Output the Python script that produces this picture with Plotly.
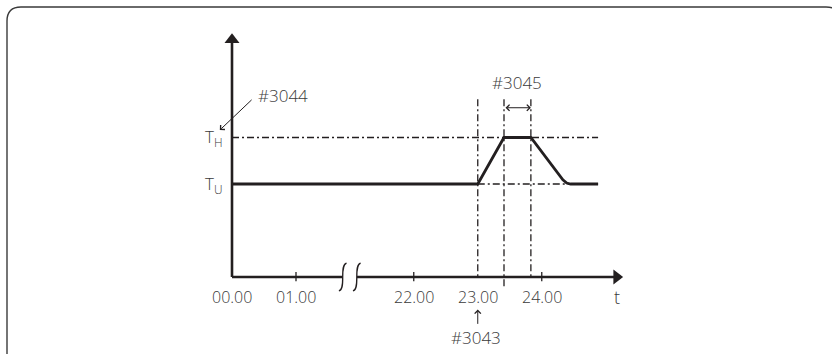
import plotly.graph_objects as go

# ---- data ----
tick_hours = [0, 1, 22, 23, 24]
tick_labels = ["00.00", "01.00", "22.00", "23.00", "24.00"]
curve_hours = [0, 23.0, 23.41, 23.83, 24.33, 24.39, 24.45, 24.88]
curve_temp = [1.0, 1.0, 1.5, 1.5, 1.045, 1.01, 1.0, 1.0]
T_U = 1.0
T_H = 1.5
mark_hours = [23.0, 23.41, 23.83]   # dash-dot verticals (#3043 start, #3045 window)
BREAK_LO, BREAK_HI = 1.73, 1.95     # axis break position (display units)
X_END, Y_END = 6.11, 2.62           # axis arrow tips
LINE_END = 24.88

W, H = 832, 354
PXX, PXY = 64.0, 93.0   # px per display unit
X0PX, Y0PX = 232.0, 277.0

def pos(h):
    """compressed time axis: hours 1..22 are folded into the break"""
    return h if h <= 1.5 else h - 19.16

INK = "#231f20"
TXT = "#3a3a3a"
FONT = "Open Sans"
FW = 300
DD = "7px,3px,2px,3px"

fig = go.Figure()

# main temperature curve
fig.add_trace(go.Scatter(x=[pos(h) for h in curve_hours], y=curve_temp, mode="lines",
                         line=dict(color=INK, width=2.8), hoverinfo="skip"))

# dash-dot reference lines
fig.add_trace(go.Scatter(x=[0, pos(LINE_END)], y=[T_H, T_H], mode="lines",
                         line=dict(color=INK, width=1.3, dash=DD), hoverinfo="skip"))
fig.add_trace(go.Scatter(x=[pos(mark_hours[0]), pos(LINE_END)], y=[T_U, T_U], mode="lines",
                         line=dict(color=INK, width=1.3, dash=DD), hoverinfo="skip"))
v_bottom = [0, -0.12, 0]
for h, b in zip(mark_hours, v_bottom):
    fig.add_trace(go.Scatter(x=[pos(h), pos(h)], y=[1.91, b], mode="lines",
                             line=dict(color=INK, width=1.3, dash=DD), hoverinfo="skip"))

# axes (drawn)
fig.add_trace(go.Scatter(x=[0, 0], y=[0, Y_END - 0.08], mode="lines",
                         line=dict(color=INK, width=2.6), hoverinfo="skip"))
fig.add_trace(go.Scatter(x=[0, BREAK_LO], y=[0, 0], mode="lines",
                         line=dict(color=INK, width=2.6), hoverinfo="skip"))
fig.add_trace(go.Scatter(x=[BREAK_HI, X_END - 0.12], y=[0, 0], mode="lines",
                         line=dict(color=INK, width=2.6), hoverinfo="skip"))
fig.add_trace(go.Scatter(x=[0], y=[Y_END - 0.07], mode="markers",
                         marker=dict(symbol="triangle-up", size=13, color=INK), hoverinfo="skip"))
fig.add_trace(go.Scatter(x=[X_END - 0.1], y=[0], mode="markers",
                         marker=dict(symbol="triangle-right", size=13, color=INK), hoverinfo="skip"))

shapes = []
# tick marks
for h in tick_hours[1:]:
    if h == 23:
        continue
    shapes.append(dict(type="line", xref="x", yref="y", x0=pos(h), x1=pos(h), y0=-0.045, y1=0.055,
                       line=dict(color=INK, width=1.3)))
# break squiggles
for bx in (BREAK_LO, BREAK_HI):
    shapes.append(dict(type="path", xref="x", yref="y",
                       path=f"M {bx+0.06},0.15 C {bx-0.06},0.13 {bx+0.06},-0.13 {bx-0.06},-0.15",
                       line=dict(color=INK, width=1.3)))

# outer rounded frame (pixel coords -> paper)
def P(px, py):
    return f"{px / W:.5f},{1 - py / H:.5f}"
x0, y0, x1, y1, r = 7, 7, 840, 372, 14
frame = (f"M {P(x0, y0 + r)} Q {P(x0, y0)} {P(x0 + r, y0)} L {P(x1 - r, y0)} "
         f"Q {P(x1, y0)} {P(x1, y0 + r)} L {P(x1, y1)} L {P(x0, y1)} Z")
shapes.append(dict(type="path", xref="paper", yref="paper", path=frame,
                   line=dict(color="#3a3a3a", width=1.4)))

def F(size):
    return dict(family=FONT, size=size, color=TXT, weight=FW)

ann = []
for h, lab in zip(tick_hours, tick_labels):
    ann.append(dict(x=pos(h), y=-0.21, xref="x", yref="y", text=lab, showarrow=False, font=F(16)))
ann.append(dict(x=pos(24) + 1.18, y=-0.22, xref="x", yref="y", text="t", showarrow=False, font=F(18)))
ann.append(dict(x=-0.12, y=T_H, xref="x", yref="y", text="T<sub>H</sub>", showarrow=False,
                xanchor="right", font=F(17)))
ann.append(dict(x=-0.12, y=T_U, xref="x", yref="y", text="T<sub>U</sub>", showarrow=False,
                xanchor="right", font=F(17)))
# #3044 arrow
ann.append(dict(x=-0.19, y=1.58, ax=0.33, ay=1.92, xref="x", yref="y", axref="x", ayref="y",
                text="", showarrow=True, arrowhead=4, arrowsize=1.2, arrowwidth=1, arrowcolor=INK))
ann.append(dict(x=0.37, y=1.95, xref="x", yref="y", text="#3044", showarrow=False,
                xanchor="left", font=F(17)))
# #3045 double arrow
ann.append(dict(x=pos(mark_hours[2]), y=1.82, ax=pos(mark_hours[1]), ay=1.82, xref="x", yref="y",
                axref="x", ayref="y", text="", showarrow=True, arrowhead=4, startarrowhead=4,
                arrowside="end+start", arrowsize=1.2, startarrowsize=1.2, arrowwidth=1, arrowcolor=INK))
ann.append(dict(x=(pos(mark_hours[1]) + pos(mark_hours[2])) / 2, y=2.09, xref="x", yref="y",
                text="#3045", showarrow=False, font=F(17)))
# #3043 arrow
ann.append(dict(x=pos(23), y=-0.35, ax=pos(23), ay=-0.52, xref="x", yref="y", axref="x", ayref="y",
                text="", showarrow=True, arrowhead=4, arrowsize=1.2, arrowwidth=1, arrowcolor=INK))
ann.append(dict(x=pos(23) - 0.03, y=-0.65, xref="x", yref="y", text="#3043", showarrow=False,
                font=F(17)))

fig.update_layout(
    width=W, height=H, margin=dict(l=0, r=0, t=0, b=0),
    paper_bgcolor="white", plot_bgcolor="white", showlegend=False,
    xaxis=dict(range=[-X0PX / PXX, (W - X0PX) / PXX], visible=False, fixedrange=True),
    yaxis=dict(range=[-(H - Y0PX) / PXY, Y0PX / PXY], visible=False, fixedrange=True),
    shapes=shapes, annotations=ann,
)
fig.write_html("out.html", config={"displayModeBar": False},
               post_script="document.body.style.margin='0';document.body.style.overflow='hidden';")
